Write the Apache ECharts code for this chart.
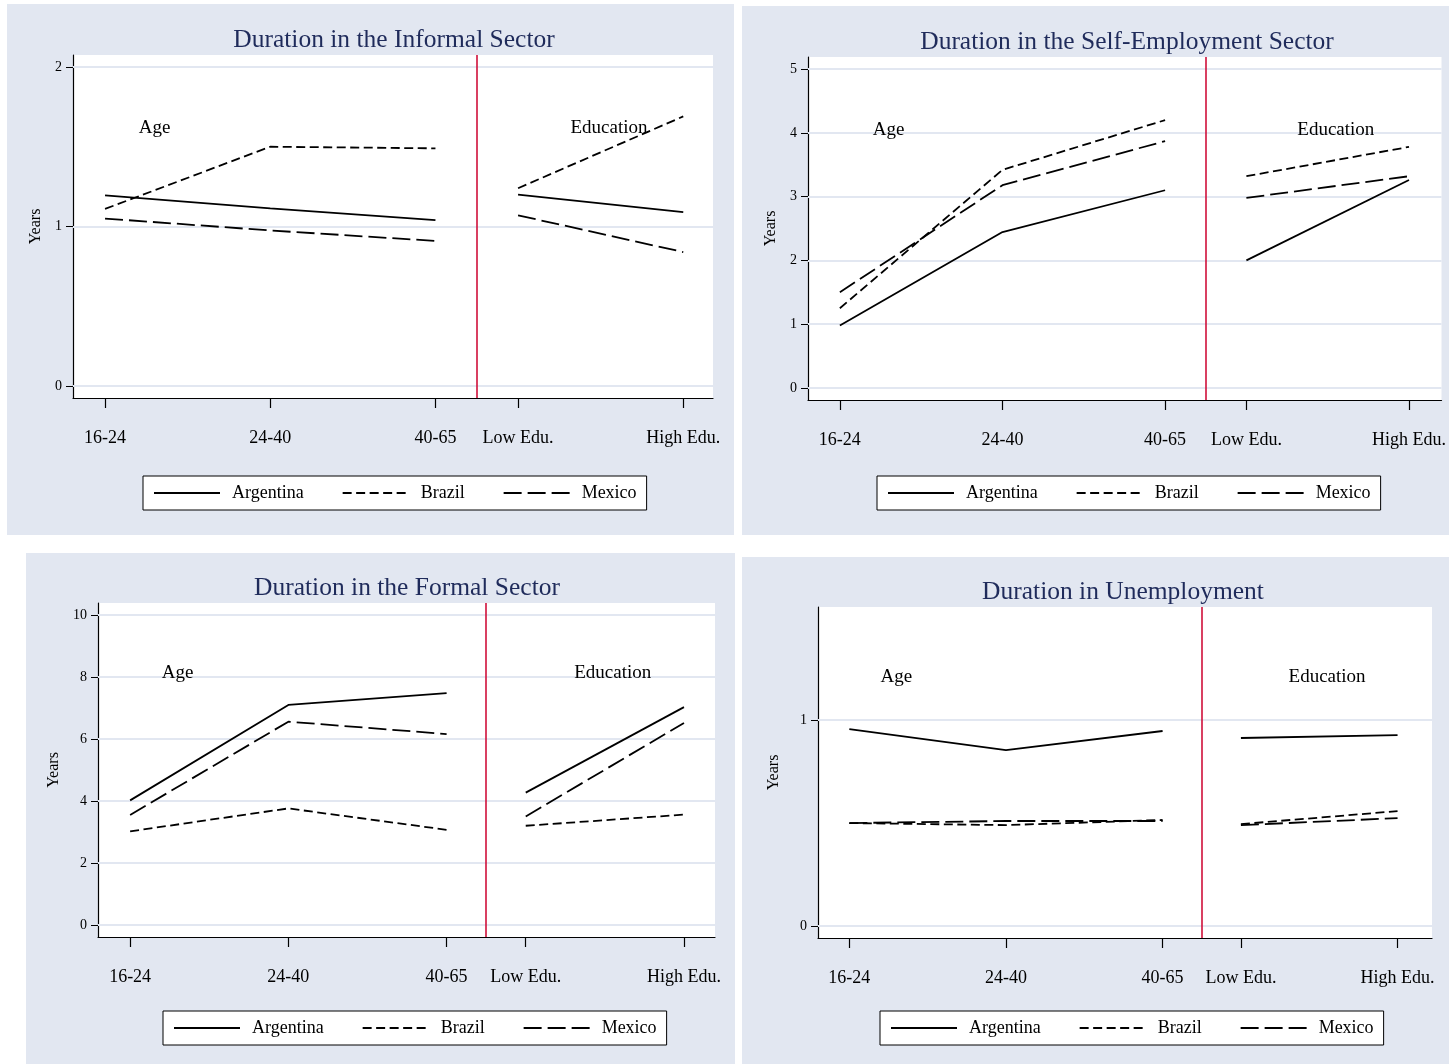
<!DOCTYPE html>
<html>
<head>
<meta charset="utf-8">
<script src="https://cdn.jsdelivr.net/npm/echarts@6/dist/echarts.min.js"></script>
<style>
html, body { margin: 0; padding: 0; background: #fff; }
body { width: 1449px; height: 1064px; position: relative; overflow: hidden; }
.panel { position: absolute; background: #e2e7f1; }
</style>
</head>
<body>
<div class="panel" id="p1" style="left:7px;top:4px;width:727px;height:531px"></div>
<div class="panel" id="p2" style="left:742px;top:6px;width:707px;height:529px"></div>
<div class="panel" id="p3" style="left:26px;top:553px;width:709px;height:511px"></div>
<div class="panel" id="p4" style="left:742px;top:557px;width:707px;height:507px"></div>
<script>
// categories: three age groups, then two education levels
const ageLabels = ['16-24', '24-40', '40-65'];
const eduLabels = ['Low Edu.', 'High Edu.'];
const ageX = [1, 2, 3];
const eduX = [3.5, 4.5];
const splitX = 3.25;
const countries = ['Argentina', 'Brazil', 'Mexico'];

// values in years: [16-24, 24-40, 40-65, Low Edu., High Edu.]
const informalArgentina = [1.195, 1.113, 1.04, 1.20, 1.09];
const informalBrazil    = [1.11, 1.50, 1.49, 1.24, 1.69];
const informalMexico    = [1.05, 0.975, 0.91, 1.07, 0.84];

const selfArgentina = [0.98, 2.445, 3.10, 2.0, 3.26];
const selfBrazil    = [1.25, 3.42, 4.20, 3.32, 3.78];
const selfMexico    = [1.50, 3.18, 3.87, 2.98, 3.32];

const formalArgentina = [4.02, 7.1, 7.48, 4.27, 7.03];
const formalBrazil    = [3.02, 3.76, 3.07, 3.2, 3.56];
const formalMexico    = [3.55, 6.56, 6.16, 3.5, 6.52];

const unempArgentina = [0.956, 0.854, 0.947, 0.913, 0.927];
const unempBrazil    = [0.50, 0.49, 0.515, 0.495, 0.558];
const unempMexico    = [0.50, 0.51, 0.51, 0.49, 0.524];

// y tick labels per panel
const informalTicks = [0, 1, 2];
const selfTicks = [0, 1, 2, 3, 4, 5];
const formalTicks = [0, 2, 4, 6, 8, 10];
const unempTicks = [0, 1];

const font = "'Liberation Serif', 'Times New Roman', serif";
const dashes = { Argentina: 'solid', Brazil: [9, 4.5], Mexico: [18, 6] };

function xLabel(v) {
  const i = ageX.indexOf(v);
  if (i >= 0) return ageLabels[i];
  const j = eduX.indexOf(v);
  return j >= 0 ? eduLabels[j] : '';
}

function initChart(el, p) {
  const chart = echarts.init(document.getElementById(el), null, { renderer: 'canvas' });
  const series = [];
  countries.forEach((c, k) => {
    const vals = p.values[k];
    const style = { color: '#000', width: 1.8, type: dashes[c] };
    series.push({
      name: c, type: 'line', symbol: 'none', z: 3, lineStyle: style, itemStyle: { color: '#000' },
      data: ageX.map((x, i) => [x, vals[i]])
    });
    series.push({
      name: c, type: 'line', symbol: 'none', z: 3, lineStyle: style, itemStyle: { color: '#000' },
      data: eduX.map((x, i) => [x, vals[3 + i]])
    });
  });
  // gridlines
  series.push({
    type: 'line', data: [], silent: true,
    markLine: {
      z: 1, silent: true, symbol: 'none', animation: false,
      label: { show: false },
      lineStyle: { color: '#e2e7f1', width: 2, type: 'solid' },
      data: p.ticks.map(t => ({ yAxis: t }))
    }
  });
  // red separator and group captions
  series.push({
    type: 'line', data: [], silent: true,
    markLine: {
      silent: true, symbol: 'none', animation: false,
      label: { show: false },
      lineStyle: { color: '#d0103a', width: 1.6, type: 'solid' },
      data: [{ xAxis: splitX }]
    },
    markPoint: {
      silent: true, symbol: 'rect', symbolSize: 0, animation: false,
      label: { show: true, position: 'inside', color: '#000', fontFamily: font, fontSize: 19, formatter: '{b}' },
      data: [
        { name: 'Age', coord: [1.3, p.capY] },
        { name: 'Education', coord: [4.05, p.capY] }
      ]
    }
  });

  chart.setOption({
    animation: false,
    title: {
      text: p.title, left: p.titleX, top: p.titleY, padding: 0,
      textAlign: 'center', textVerticalAlign: 'middle',
      textStyle: { fontFamily: font, fontSize: 25.5, fontWeight: 'normal', color: '#1f2b5b' }
    },
    grid: {
      left: p.grid[0], top: p.grid[1], right: p.grid[2], bottom: p.grid[3],
      show: true, backgroundColor: '#fff', borderWidth: 0
    },
    legend: {
      data: countries, left: p.legend[0], top: p.legend[1],
      orient: 'horizontal', backgroundColor: '#fff', borderColor: '#000', borderWidth: 1,
      padding: [8, 10, 8, 10], itemGap: 38, itemWidth: 66, itemHeight: 16,
      selectedMode: false,
      itemStyle: { opacity: 0 },
      textStyle: { fontFamily: font, fontSize: 18, color: '#000', padding: [0, 0, 0, 7] }
    },
    xAxis: {
      type: 'value', min: p.xRange[0], max: p.xRange[1],
      axisLine: { show: true, onZero: false, lineStyle: { color: '#000', width: 1.2 } },
      axisTick: { show: true, length: 10, customValues: ageX.concat(eduX), lineStyle: { color: '#000', width: 1.2 } },
      axisLabel: {
        customValues: ageX.concat(eduX), formatter: xLabel, margin: 31,
        fontFamily: font, fontSize: 18, color: '#000'
      },
      splitLine: { show: false }
    },
    yAxis: {
      type: 'value', min: p.yRange[0], max: p.yRange[1],
      name: 'Years', nameLocation: 'middle', nameGap: p.nameGap,
      nameTextStyle: { fontFamily: font, fontSize: 16, color: '#000' },
      axisLine: { show: true, onZero: false, lineStyle: { color: '#000', width: 1.2 } },
      axisTick: { show: true, length: 7, customValues: p.ticks, lineStyle: { color: '#000', width: 1 } },
      axisLabel: { customValues: p.ticks, margin: 11, fontFamily: font, fontSize: 14, color: '#000' },
      splitLine: { show: false }
    },
    series: series
  });
  return chart;
}

initChart('p1', {
  title: 'Duration in the Informal Sector', titleX: 387, titleY: 36,
  grid: [66, 51, 21, 137], legend: [136, 472], nameGap: 24,
  xRange: [0.806, 4.68], yRange: [-0.075, 2.075], ticks: informalTicks, capY: 1.62,
  values: [informalArgentina, informalBrazil, informalMexico]
});
initChart('p2', {
  title: 'Duration in the Self-Employment Sector', titleX: 385, titleY: 36,
  grid: [66, 51, 4, 135], legend: [135, 470], nameGap: 24,
  xRange: [0.804, 4.70], yRange: [-0.19, 5.19], ticks: selfTicks, capY: 4.04,
  values: [selfArgentina, selfBrazil, selfMexico]
});
initChart('p3', {
  title: 'Duration in the Formal Sector', titleX: 381, titleY: 35,
  grid: [72, 50, 20, 127], legend: [137, 458], nameGap: 31,
  xRange: [0.797, 4.696], yRange: [-0.39, 10.39], ticks: formalTicks, capY: 8.13,
  values: [formalArgentina, formalBrazil, formalMexico]
});
initChart('p4', {
  title: 'Duration in Unemployment', titleX: 381, titleY: 35,
  grid: [76, 50, 17, 126], legend: [138, 454], nameGap: 36,
  xRange: [0.80, 4.72], yRange: [-0.058, 1.549], ticks: unempTicks, capY: 1.21,
  values: [unempArgentina, unempBrazil, unempMexico]
});
</script>
</body>
</html>
